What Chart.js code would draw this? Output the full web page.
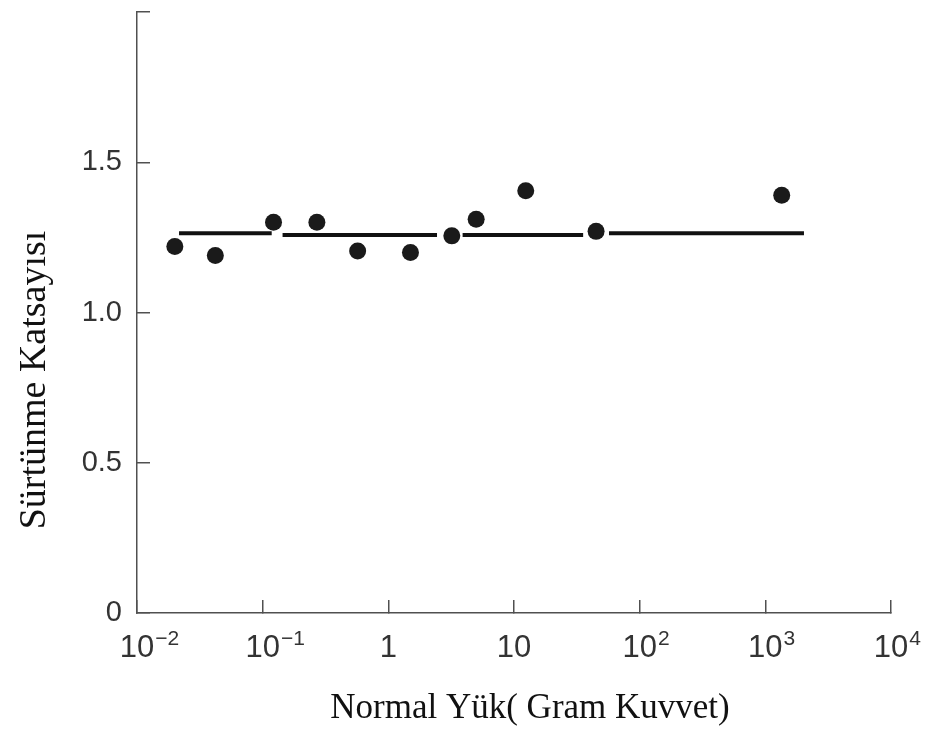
<!DOCTYPE html>
<html>
<head>
<meta charset="utf-8">
<script src="https://cdn.jsdelivr.net/npm/chart.js@4/dist/chart.umd.min.js"></script>
<style>
  html, body { margin: 0; padding: 0; background: #fff; }
  canvas { display: block; }
</style>
</head>
<body>
<canvas id="chart" width="927" height="733"></canvas>
<script>
// normal load (gram force) and friction coefficient of each measured point
const loads = [0.020, 0.042, 0.122, 0.27, 0.57, 1.5, 3.2, 5.0, 12.4, 45, 1350]
const friction = [1.22, 1.19, 1.30, 1.30, 1.205, 1.20, 1.255, 1.31, 1.405, 1.27, 1.39]

// the broken horizontal mean line: start, end and level of each piece
const segStart = [0.0216, 0.144, 3.9, 57]
const segEnd = [0.118, 2.44, 35.5, 2030]
const segLevel = [1.264, 1.258, 1.258, 1.264]

// x tick labels are written as base + superscript exponent
const xTickValues = [0.01, 0.1, 1, 10, 100, 1000, 10000]
const xTickBase = ['10', '10', '1', '10', '10', '10', '10']
const xTickExp = ['−2', '−1', '', '', '2', '3', '4']
const yTickValues = [0, 0.5, 1, 1.5, 2]
const yTickLabels = ['0', '0.5', '1.0', '1.5', '']

const xTitle = 'Normal Yük( Gram Kuvvet)'
const yTitle = 'Sürtünme Katsayısı'

const axisColor = '#505050'
const sans = '"Liberation Sans", Arial, sans-serif'
const serif = '"Liberation Serif", "Times New Roman", serif'

const pointData = loads.map((x, i) => ({ x: x, y: friction[i] }))

const lineSets = segStart.map((s, i) => ({
  type: 'line',
  data: [{ x: s, y: segLevel[i] }, { x: segEnd[i], y: segLevel[i] }],
  borderColor: '#111',
  borderWidth: 4,
  borderCapStyle: 'butt',
  pointRadius: 0,
  fill: false,
}))

// powers of ten with real raised exponents, placed from the x scale
const xPowerLabels = {
  id: 'xPowerLabels',
  afterDraw(chart) {
    const ctx = chart.ctx
    const xs = chart.scales.x
    const base = xs.bottom - 76
    ctx.save()
    ctx.fillStyle = '#333'
    ctx.textBaseline = 'alphabetic'
    xTickValues.forEach((v, i) => {
      const px = xs.getPixelForValue(v)
      ctx.font = '31px ' + sans
      ctx.textAlign = 'center'
      ctx.fillText(xTickBase[i], px, base)
      if (xTickExp[i]) {
        const w = ctx.measureText(xTickBase[i]).width
        ctx.font = '21px ' + sans
        ctx.textAlign = 'left'
        ctx.fillText(xTickExp[i], px + w / 2 + 1, base - 12)
      }
    })
    ctx.restore()
  },
}

// axis titles sit off-centre in the original, so place them by hand
const axisTitles = {
  id: 'axisTitles',
  afterDraw(chart) {
    const ctx = chart.ctx
    const area = chart.chartArea
    ctx.save()
    ctx.fillStyle = '#111'
    ctx.textBaseline = 'alphabetic'
    ctx.textAlign = 'center'
    ctx.font = '35px ' + serif
    ctx.fillText(xTitle, area.left + 393, area.bottom + 105)
    ctx.translate(45, area.top + 368)
    ctx.rotate(-Math.PI / 2)
    ctx.font = '38px ' + serif
    ctx.fillText(yTitle, 0, 0)
    ctx.restore()
  },
}

const config = {
  type: 'scatter',
  data: {
    datasets: [
      {
        data: pointData,
        backgroundColor: '#1a1a1a',
        borderColor: '#1a1a1a',
        pointRadius: 8.5,
        pointBorderWidth: 0,
      },
    ].concat(lineSets),
  },
  options: {
    responsive: false,
    animation: false,
    devicePixelRatio: 1,
    layout: { padding: { left: 0, right: 36, top: 12, bottom: 0 } },
    plugins: {
      legend: { display: false },
      tooltip: { enabled: false },
    },
    scales: {
      x: {
        type: 'logarithmic',
        position: 'bottom',
        min: 0.01,
        max: 10000,
        afterBuildTicks: (scale) => {
          scale.ticks = xTickValues.map((v) => ({ value: v }))
        },
        afterFit: (scale) => {
          scale.height = 120
          scale.paddingLeft = 0
          scale.paddingRight = 0
        },
        ticks: {
          autoSkip: false,
          maxRotation: 0,
          padding: 30,
          font: { family: sans, size: 28 },
          callback: () => '',
        },
        grid: {
          drawOnChartArea: false,
          drawTicks: true,
          tickLength: -13,
          color: axisColor,
          lineWidth: 1.5,
        },
        border: { display: true, color: axisColor, width: 1.5 },
      },
      y: {
        type: 'linear',
        min: 0,
        max: 2,
        afterBuildTicks: (scale) => {
          scale.ticks = yTickValues.map((v) => ({ value: v }))
        },
        afterFit: (scale) => {
          scale.width = 137
          scale.paddingTop = 0
          scale.paddingBottom = 0
        },
        ticks: {
          padding: 28,
          color: '#333',
          font: { family: sans, size: 29 },
          callback: (value, index) => yTickLabels[index],
        },
        grid: {
          drawOnChartArea: false,
          drawTicks: true,
          tickLength: -13,
          color: axisColor,
          lineWidth: 1.5,
        },
        border: { display: true, color: axisColor, width: 1.5 },
      },
    },
  },
  plugins: [xPowerLabels, axisTitles],
}

const chart = new Chart(document.getElementById('chart'), config)
</script>
</body>
</html>
